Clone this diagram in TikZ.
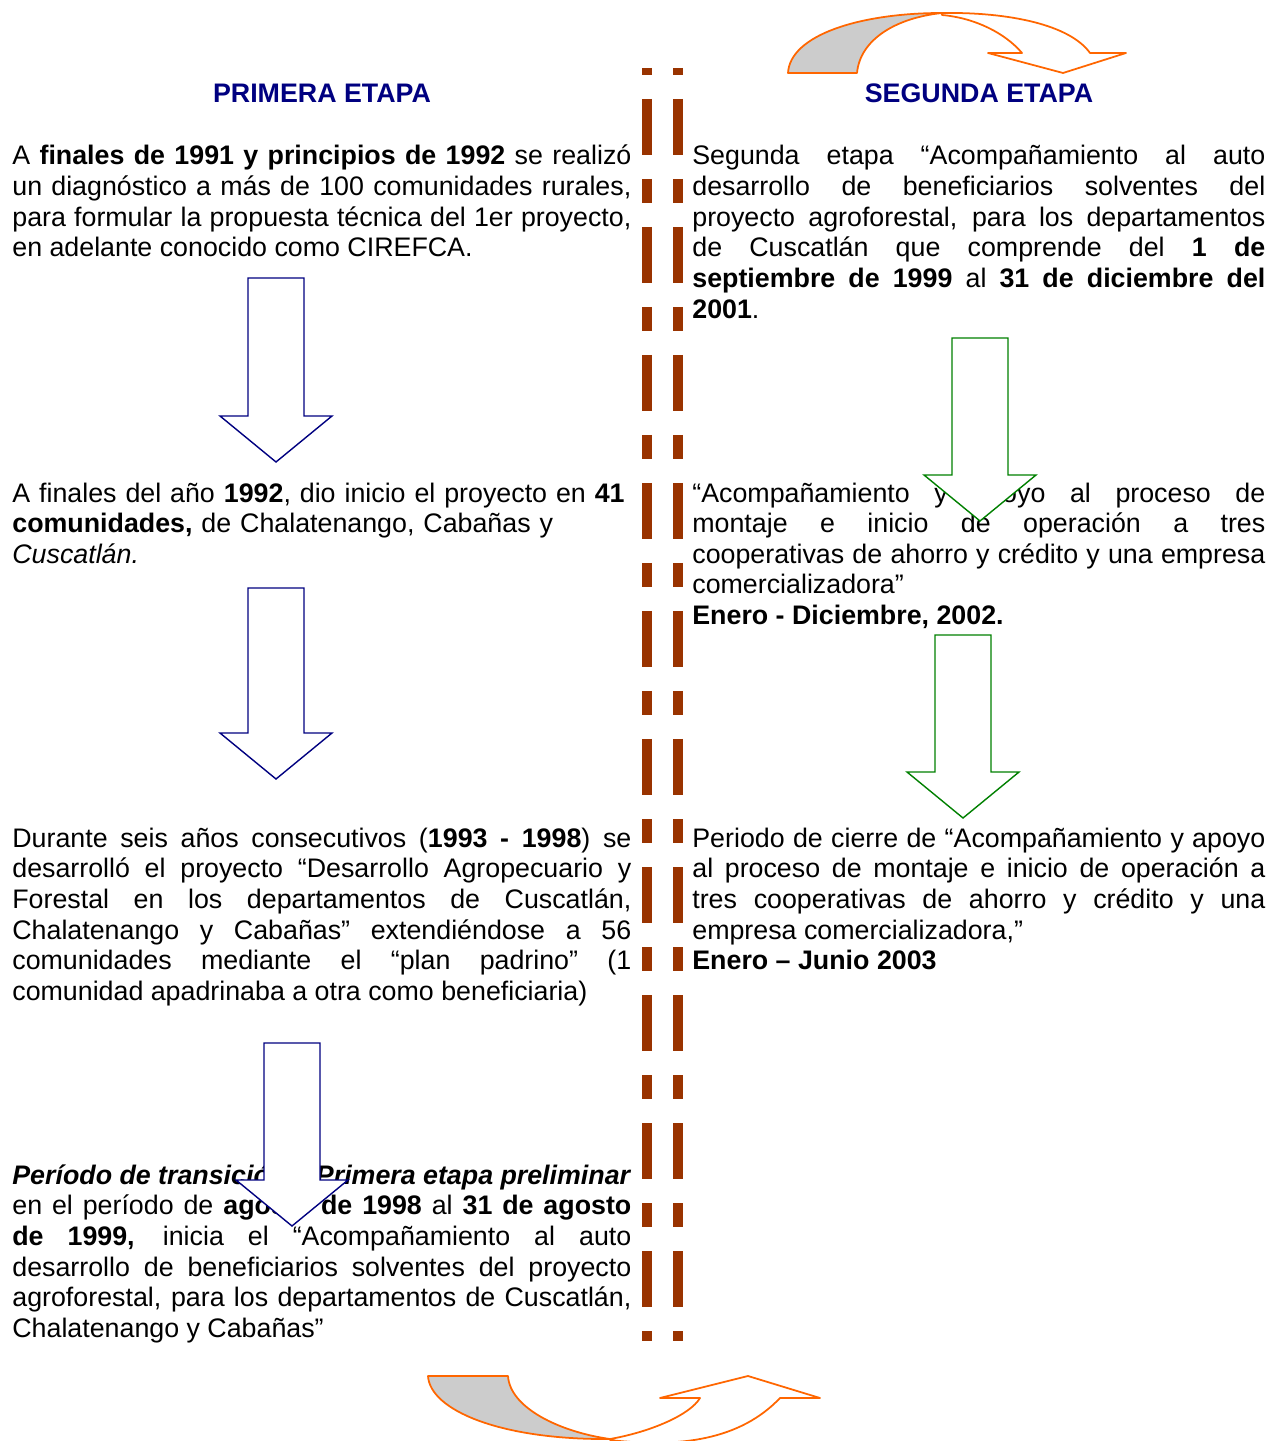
\documentclass[tikz,border=0pt]{standalone}
\usepackage{fontspec}
\setmainfont{Liberation Sans}
\usetikzlibrary{positioning}
\definecolor{navy}{HTML}{000080}
\definecolor{leaf}{HTML}{008000}
\definecolor{rust}{HTML}{993300}
\definecolor{bendline}{HTML}{FF6600}
\definecolor{bendfill}{HTML}{CCCCCC}
\newcommand{\fifteen}{\fontsize{15.25}{17.45}\selectfont}
\tikzset{
 every node/.append style={font=\fifteen,text=black,inner sep=0pt},
 para/.style={text width=12.38cm,align=justify,anchor=base west},
 pararight/.style={para,text width=11.46cm},
 ragged/.style={para,align=left},
 heading/.style={font=\fifteen\bfseries,text=navy,anchor=base},
 blockarrow/.style={fill=white,line width=.8pt,line join=miter},
 divider/.style={draw=rust,line width=5.7pt,dash pattern=on 1.12cm off .48cm on .48cm off .48cm,dash phase=1.94cm},
 curvedband/.style={draw=bendline,line width=1pt,line join=round},
}
\newcommand{\downblock}[4]{
 \draw[blockarrow,draw=#4] (#1-.56,#2) -- (#1+.56,#2) -- (#1+.56,#3) -- (#1+1.12,#3) -- (#1,#3-.92) -- (#1-1.12,#3) -- (#1-.56,#3) -- cycle;
}

\begin{document}
\begin{tikzpicture}

\useasboundingbox (0,0) rectangle (25.42,-28.82);
\node[heading] (primera) at (6.44,-2.05) {PRIMERA ETAPA};
\node[heading] (segundah) at (19.58,-2.05) {SEGUNDA ETAPA};
\node[para] (diagnostico) at (.24,-3.3) {A \textbf{finales de 1991 y principios de 1992} se realizó\linebreak un diagnóstico a más de 100 comunidades rurales,\linebreak para formular la propuesta técnica del 1er proyecto,\linebreak en adelante conocido como CIREFCA.};
\node[ragged] (inicio) at (.24,-10.04) {A finales del año \textbf{1992}, dio inicio el proyecto en \textbf{41}\\\textbf{comunidades,} de Chalatenango, Cabañas y\\\textit{Cuscatlán.}};
\node[para] (seisanos) at (.24,-16.94) {Durante seis años consecutivos (\textbf{1993 - 1998}) se\linebreak desarrolló el proyecto “Desarrollo Agropecuario y\linebreak Forestal en los departamentos de Cuscatlán,\linebreak Chalatenango y Cabañas” extendiéndose a 56\linebreak comunidades mediante el “plan padrino” (1\linebreak comunidad apadrinaba a otra como beneficiaria)};
\node[para] (transicion) at (.24,-23.68) {\textbf{\textit{Período de transición – Primera etapa preliminar}}\linebreak en el período de \textbf{agosto de 1998} al \textbf{31 de agosto}\linebreak \textbf{de 1999,} inicia el “Acompañamiento al auto\linebreak desarrollo de beneficiarios solventes del proyecto\linebreak agroforestal, para los departamentos de Cuscatlán,\linebreak Chalatenango y Cabañas”};
\node[pararight] (segunda) at (13.84,-3.3) {Segunda etapa “Acompañamiento al auto\linebreak desarrollo de beneficiarios solventes del\linebreak proyecto agroforestal, para los departamentos\linebreak de Cuscatlán que comprende del \textbf{1 de}\linebreak \textbf{septiembre de 1999} al \textbf{31 de diciembre del}\linebreak \textbf{2001}.};
\node[pararight] (montaje) at (13.84,-10.04) {“Acompañamiento y apoyo al proceso de\linebreak montaje e inicio de operación a tres\linebreak cooperativas de ahorro y crédito y una empresa\linebreak comercializadora”\\\textbf{Enero - Diciembre, 2002.}};
\node[pararight] (cierre) at (13.84,-16.94) {Periodo de cierre de “Acompañamiento y apoyo\linebreak al proceso de montaje e inicio de operación a\linebreak tres cooperativas de ahorro y crédito y una\linebreak empresa comercializadora,”\\\textbf{Enero – Junio 2003}};
% block arrows
\downblock{5.52}{-5.56}{-8.32}{navy}
\downblock{5.52}{-11.76}{-14.66}{navy}
\downblock{5.84}{-20.86}{-23.6}{navy}
\downblock{19.6}{-6.76}{-9.5}{leaf}
\downblock{19.26}{-12.7}{-15.44}{leaf}
% dividers
\draw[divider] (12.94,-1.36) -- (12.94,-26.82);
\draw[divider] (13.56,-1.36) -- (13.56,-26.82);
% curved arrows
\draw[curvedband,fill=bendfill] (15.76,-1.46) .. controls (15.8,-.7) and (17.2,-.26) .. (18.84,-.26) .. controls (17.9,-.36) and (17.2,-.8) .. (17.14,-1.46) -- cycle;
\draw[curvedband,fill=white] (18.84,-.26) .. controls (20.2,-.24) and (21.4,-.5) .. (21.8,-1.06) -- (22.52,-1.06) -- (21.26,-1.46) -- (19.76,-1.06) -- (20.44,-1.06) .. controls (20.1,-.66) and (19.5,-.36) .. (18.84,-.3) -- cycle;
\draw[curvedband,fill=bendfill] (8.56,-27.52) -- (10.16,-27.52) .. controls (10.2,-28.16) and (11.2,-28.64) .. (12.2,-28.78) .. controls (10,-28.8) and (8.6,-28.2) .. (8.56,-27.52) -- cycle;
\draw[curvedband,fill=white] (12.2,-28.78) .. controls (13,-28.64) and (13.8,-28.3) .. (14,-27.96) -- (13.2,-27.96) -- (14.96,-27.52) -- (16.4,-27.96) -- (15.6,-27.96) .. controls (14.8,-28.8) and (13.6,-28.96) .. (12.2,-28.8) -- cycle;

\end{tikzpicture}
\end{document}
